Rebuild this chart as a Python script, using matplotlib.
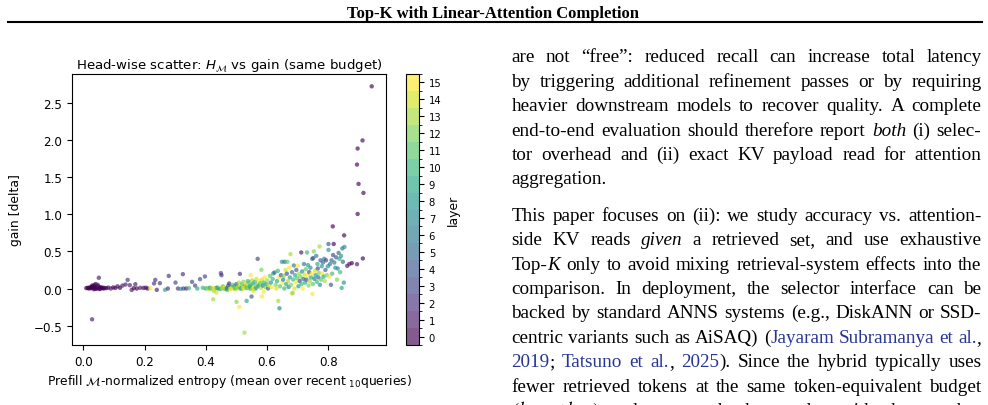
import re
import numpy as np
import matplotlib
matplotlib.use('Agg')
import matplotlib.pyplot as plt
from matplotlib.colors import BoundaryNorm
from matplotlib.lines import Line2D

# ---- data (entropy, gain, layer) ----
# layer-0 cluster at very low entropy
left_x = [0.010, 0.014, 0.018, 0.020, 0.022, 0.025, 0.027, 0.030, 0.032, 0.034,
          0.036, 0.038, 0.040, 0.042, 0.044, 0.046, 0.048, 0.050, 0.052, 0.055,
          0.058, 0.060, 0.063, 0.066, 0.070, 0.035, 0.041, 0.047, 0.029, 0.053,
          0.051, 0.029]
left_y = [0.005, 0.010, 0.000, 0.008, 0.015, 0.003, 0.020, 0.012, 0.030, 0.005,
          0.045, 0.018, 0.060, 0.008, 0.025, 0.002, 0.035, 0.010, 0.022, 0.000,
          0.015, 0.005, 0.012, 0.000, 0.008, -0.010, -0.005, 0.050, 0.040, -0.008,
          0.145, -0.415]
left_layer = [0, 0, 0, 0, 0, 0, 0, 0, 0, 0,
              0, 0, 0, 1, 0, 0, 0, 0, 1, 0,
              0, 0, 0, 0, 0, 0, 0, 1, 0, 0,
              1, 1]

# low-to-mid entropy ramp, mostly early layers
ramp_x = [0.075, 0.082, 0.090, 0.098, 0.105, 0.112, 0.120, 0.128, 0.138, 0.145,
          0.152, 0.158, 0.165, 0.170, 0.175, 0.186, 0.197, 0.204, 0.210, 0.219,
          0.231, 0.235, 0.240, 0.250, 0.267, 0.276, 0.279, 0.301, 0.309, 0.318,
          0.325, 0.327, 0.336, 0.345, 0.355, 0.365, 0.372, 0.381, 0.390, 0.397]
ramp_y = [0.005, 0.012, 0.000, 0.015, 0.008, 0.030, 0.010, 0.040, 0.054, 0.116,
          0.045, -0.019, 0.005, 0.058, 0.000, 0.010, 0.008, 0.012, 0.000, 0.004,
          0.068, 0.116, -0.018, 0.072, -0.018, 0.000, 0.170, 0.080, 0.000, -0.005,
          0.193, 0.000, 0.000, 0.005, 0.090, 0.040, 0.000, 0.126, 0.010, 0.162]
ramp_layer = [0, 0, 1, 0, 0, 1, 0, 1, 1, 2,
              1, 1, 0, 1, 0, 1, 0, 1, 0, 15,
              2, 2, 1, 2, 9, 2, 2, 3, 2, 8,
              2, 3, 2, 10, 3, 3, 9, 3, 10, 3]

# dense band around zero gain
band_x = [0.400, 0.405, 0.410, 0.413, 0.418, 0.422, 0.426, 0.430, 0.434, 0.436,
          0.440, 0.444, 0.447, 0.449, 0.451, 0.453, 0.456, 0.460, 0.463, 0.466,
          0.470, 0.473, 0.476, 0.478, 0.482, 0.485, 0.488, 0.490, 0.493, 0.496,
          0.500, 0.502, 0.505, 0.508, 0.511, 0.512, 0.515, 0.518, 0.520, 0.523,
          0.526, 0.529, 0.531, 0.534, 0.537, 0.540, 0.542, 0.545, 0.546, 0.548,
          0.551, 0.554, 0.557, 0.560, 0.562, 0.565, 0.568, 0.569, 0.571, 0.574,
          0.577, 0.580, 0.581, 0.583, 0.586, 0.589, 0.592, 0.595, 0.598, 0.600,
          0.603, 0.606, 0.609, 0.612, 0.615, 0.618, 0.424, 0.500, 0.509, 0.533,
          0.549, 0.583, 0.526, 0.589, 0.470, 0.555, 0.415, 0.428, 0.438, 0.458,
          0.468, 0.480, 0.495, 0.503, 0.513, 0.522, 0.535, 0.543, 0.552, 0.563]
band_y = [0.000, 0.005, -0.005, 0.010, 0.000, 0.008, -0.032, 0.003, -0.054, 0.012,
          0.000, 0.020, -0.008, 0.207, 0.180, 0.005, 0.030, 0.000, 0.015, -0.010,
          0.010, 0.040, 0.068, 0.000, 0.020, 0.005, 0.050, -0.005, 0.030, 0.010,
          0.060, 0.000, 0.025, 0.080, 0.197, 0.040, 0.005, 0.060, -0.010, 0.090,
          0.030, 0.070, 0.010, 0.050, 0.100, 0.020, 0.080, 0.000, 0.180, 0.040,
          0.110, 0.060, 0.020, 0.090, 0.000, 0.130, 0.050, 0.400, 0.030, 0.100,
          0.070, 0.010, 0.252, 0.120, 0.040, 0.080, 0.150, 0.020, 0.060, 0.110,
          0.000, 0.040, 0.170, 0.080, 0.020, 0.130, -0.145, -0.180, -0.248, -0.167,
          -0.108, -0.108, -0.595, -0.045, -0.020, -0.030, 0.002, 0.000, 0.004, 0.010,
          0.002, -0.004, 0.000, 0.015, -0.002, 0.012, 0.005, 0.030, -0.005, 0.015]
band_layer = [9, 12, 14, 7, 11, 15, 13, 10, 14, 6,
              12, 15, 9, 3, 2, 13, 11, 8, 15, 12,
              10, 5, 2, 14, 7, 13, 11, 15, 9, 12,
              4, 14, 10, 13, 2, 15, 8, 11, 14, 12,
              6, 15, 9, 13, 10, 14, 11, 7, 15, 12,
              13, 9, 15, 10, 5, 14, 12, 3, 8, 15,
              11, 13, 12, 14, 6, 10, 15, 12, 9, 13,
              4, 14, 11, 8, 15, 10, 13, 12, 15, 9,
              4, 15, 13, 15, 11, 14, 12, 15, 9, 14,
              6, 15, 11, 13, 10, 15, 12, 9, 14, 11]

# rising cloud at high entropy
upper_x = [0.620, 0.624, 0.628, 0.630, 0.632, 0.635, 0.636, 0.638, 0.640, 0.642,
           0.645, 0.648, 0.650, 0.652, 0.654, 0.656, 0.657, 0.660, 0.662, 0.664,
           0.666, 0.668, 0.670, 0.672, 0.674, 0.676, 0.678, 0.680, 0.681, 0.683,
           0.685, 0.687, 0.689, 0.691, 0.693, 0.695, 0.697, 0.700, 0.702, 0.704,
           0.706, 0.708, 0.711, 0.712, 0.714, 0.716, 0.718, 0.720, 0.722, 0.724,
           0.726, 0.728, 0.730, 0.732, 0.733, 0.735, 0.737, 0.739, 0.741, 0.743,
           0.745, 0.747, 0.748, 0.749, 0.750, 0.752, 0.754, 0.756, 0.758, 0.760,
           0.762, 0.764, 0.765, 0.767, 0.769, 0.771, 0.772, 0.774, 0.776, 0.778,
           0.780, 0.782, 0.784, 0.786, 0.788, 0.790, 0.792, 0.795, 0.798, 0.800,
           0.800, 0.803, 0.805, 0.808, 0.810, 0.812, 0.815, 0.817, 0.819, 0.822,
           0.825, 0.828, 0.830, 0.833, 0.836, 0.838, 0.841, 0.843, 0.845, 0.847,
           0.850, 0.852, 0.851, 0.814]
upper_y = [0.203, 0.216, 0.050, 0.000, 0.100, 0.238, -0.167, 0.150, -0.266, 0.030,
           0.180, 0.360, 0.080, 0.120, 0.170, 0.000, 0.360, 0.250, 0.060, 0.200,
           0.360, 0.100, 0.020, 0.280, 0.150, 0.463, 0.050, -0.070, 0.220, -0.060,
           0.120, 0.310, 0.000, 0.180, 0.080, 0.250, 0.140, 0.306, 0.030, 0.200,
           0.100, 0.160, 0.486, 0.060, 0.230, 0.000, 0.130, 0.330, 0.190, 0.080,
           0.260, 0.120, 0.486, 0.170, 0.315, 0.040, 0.220, 0.100, 0.280, 0.150,
           0.200, 0.400, -0.073, 0.060, 0.410, 0.500, 0.130, 0.240, 0.180, 0.440,
           0.090, 0.330, 0.270, 0.150, 0.210, 0.567, 0.050, 0.380, 0.120, 0.300,
           0.200, 0.350, 0.160, 0.400, 0.100, 0.250, 0.380, 0.180, 0.300, 0.600,
           0.520, 0.160, 0.330, 0.050, 0.380, 0.200, 0.450, 0.600, 0.350, 0.280,
           0.420, 0.120, 0.270, 0.480, 0.400, 0.220, 0.440, 0.008, 0.540, 0.360,
           0.080, 0.560, 0.716, 0.837]
upper_layer = [8, 5, 12, 14, 9, 10, 13, 15, 7, 11,
               4, 8, 15, 6, 12, 10, 5, 14, 9, 3,
               11, 13, 7, 15, 8, 13, 12, 15, 5, 12,
               10, 6, 14, 9, 15, 4, 11, 15, 8, 13,
               3, 12, 1, 10, 7, 15, 5, 6, 14, 9,
               11, 4, 10, 15, 8, 12, 3, 13, 7, 9,
               15, 5, 15, 11, 4, 12, 6, 14, 8, 6,
               10, 9, 3, 5, 12, 13, 7, 4, 11, 8,
               15, 5, 9, 6, 13, 4, 3, 12, 7, 4,
               8, 15, 6, 4, 5, 10, 3, 0, 6, 8,
               4, 12, 7, 5, 9, 10, 8, 9, 6, 5,
               8, 7, 0, 0]

# layer-0 heads with large gains at the highest entropy
tail_x = [0.861, 0.868, 0.876, 0.893, 0.912, 0.941, 0.911, 0.895, 0.893, 0.898,
          0.914, 0.895]
tail_y = [0.305, 0.330, 0.342, 0.328, 0.405, 2.724, 1.995, 1.886, 1.670, 1.409,
          1.288, 1.004]
tail_layer = [1, 1, 0, 1, 0, 0, 0, 0, 0, 0,
              0, 0]

entropy = np.array(left_x + ramp_x + band_x + upper_x + tail_x)
gain = np.array(left_y + ramp_y + band_y + upper_y + tail_y)
layer = np.array(left_layer + ramp_layer + band_layer + upper_layer + tail_layer)
layer_ticks = list(range(16))

header = 'Top-K with Linear-Attention Completion'
para1 = [
    'are not “free”: reduced recall can increase total latency',
    'by triggering additional refinement passes or by requiring',
    'heavier downstream models to recover quality. A complete',
    'end-to-end evaluation should therefore report *both* (i) selec-',
    'tor overhead and (ii) exact KV payload read for attention',
    'aggregation.',
]
para2 = [
    'This paper focuses on (ii): we study accuracy vs. attention-',
    'side KV reads *given* a retrieved set, and use exhaustive',
    'Top-*K* only to avoid mixing retrieval-system effects into the',
    'comparison. In deployment, the selector interface can be',
    'backed by standard ANNS systems (e.g., DiskANN or SSD-',
    'centric variants such as AiSAQ) ({Jayaram} {Subramanya} {et} {al.},',
    '{2019}; {Tatsuno} {et} {al.}, {2025}). Since the hybrid typically uses',
    'fewer retrieved tokens at the same token-equivalent budget',
    r'$(k_{\rm hyb} \leq k_{\rm top})$, selector work that scales with the number',
]

W, H = 988, 406
fig = plt.figure(figsize=(W / 100, H / 100), dpi=100)
renderer = fig.canvas.get_renderer()


def fx(px):
    return px / W


def fy(py):
    return 1 - py / H


# ---- page header ----
fig.text(fx(493), fy(18), header, ha='center', va='baseline',
         family='Liberation Serif', weight='bold', fontsize=12)
fig.add_artist(Line2D([fx(8), fx(982)], [fy(23), fy(23)], color='black', lw=1.5))

# ---- scatter ----
ax = fig.add_axes([fx(72), fy(346), (386 - 72) / W, (346 - 75) / H])
cmap = plt.get_cmap('viridis', 16)
norm = BoundaryNorm(np.arange(-0.5, 16, 1), cmap.N)
sc = ax.scatter(entropy, gain, c=layer, cmap=cmap, norm=norm, s=10,
                alpha=0.65, linewidths=0)
ax.set_title(r'Head-wise scatter: $H_{\mathcal{M}}$ vs gain (same budget)',
             fontsize=9.6, pad=4)
ax.set_xlabel(r'Prefill $\mathcal{M}$-normalized entropy (mean over recent $_{10}$queries)',
              fontsize=8.9, labelpad=3)
ax.set_ylabel('gain [delta]', fontsize=8.9, labelpad=8)
ax.tick_params(labelsize=8.6)

cax = fig.add_axes([fx(406), fy(346), 13 / W, (346 - 75) / H])
cb = fig.colorbar(sc, cax=cax, ticks=layer_ticks)
cb.set_ticks(np.arange(-0.5, 16, 1), minor=True)
cb.ax.tick_params(labelsize=7.2)
cb.ax.tick_params(which='minor', length=2)
cb.set_label('layer', fontsize=8.9)

# ---- body text column (justified) ----
BODY = 13.8
COL_L, COL_R = 511.5, 981.5
LINK = '#283593'


def parse_word(word):
    segs = []
    if word.startswith('$'):
        end = word.index('$', 1)
        segs.append((word[:end + 1], 'm'))
        word = word[end + 1:]
    ital, blue, buf = False, False, ''
    for ch in word:
        if ch in '*{}':
            if buf:
                segs.append((buf, ('i' if ital else '') + ('b' if blue else '')))
            buf = ''
            if ch == '*':
                ital = not ital
            elif ch == '{':
                blue = True
            else:
                blue = False
        else:
            buf += ch
    if buf:
        segs.append((buf, ('i' if ital else '') + ('b' if blue else '')))
    return segs


def put_line(line, y, justify=True):
    words = re.findall(r'\$[^$]*\$\S*|\S+', line)
    items = []
    for w in words:
        parts = []
        for s, st in parse_word(w):
            t = fig.text(0, fy(y), s, fontsize=BODY, family='Liberation Serif',
                         style='italic' if 'i' in st else 'normal',
                         color=LINK if 'b' in st else 'black',
                         ha='left', va='baseline', math_fontfamily='stix')
            parts.append((t, t.get_window_extent(renderer).width))
        items.append(parts)
    total = sum(w for parts in items for _, w in parts)
    gap = (COL_R - COL_L - total) / (len(items) - 1) if justify else 4.8
    x = COL_L
    for parts in items:
        for t, w in parts:
            t.set_x(fx(x))
            x += w
        x += gap


for i, line in enumerate(para1):
    put_line(line, 62.5 + 24.4 * i, justify=(i < len(para1) - 1))
for i, line in enumerate(para2):
    put_line(line, 220.7 + 24.43 * i)

fig.savefig('out.png', dpi=100)
